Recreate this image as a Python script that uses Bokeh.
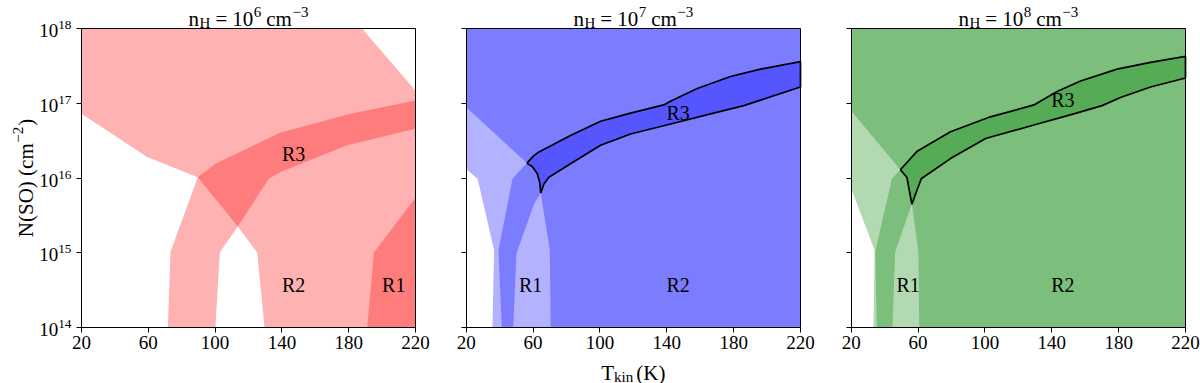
import math
from bokeh.plotting import figure
from bokeh.models import (Range1d, FixedTicker, LogTickFormatter, CustomJSTickFormatter, Label,
                          LinearAxis, LogAxis)
from bokeh.layouts import row
from bokeh.core.properties import value
from bokeh.embed import file_html
from bokeh.resources import INLINE

FONT = "Liberation Serif"

# ---------------- data ----------------
x_ticks = [20, 60, 100, 140, 180, 220]
y_ticks = [1e14, 1e15, 1e16, 1e17, 1e18]
T_min, T_max = 20, 220
logN_min, logN_max = 14, 18
density_exp = ["6", "7", "8"]
panel_colors = ["red", "blue", "green"]

# Panel 1 (nH = 1e6) : region polygons, T (K) and log10 N(SO)
p1_r1_T = [191.1, 195.1, 220.0, 220.0]
p1_r1_logN = [14.0, 15.0, 15.74, 14.0]
p1_r2_T = [20, 188.1, 220, 220, 129.6, 125.2, 113.6, 89.6, 59.3, 20]
p1_r2_logN = [18, 18, 17.17, 14, 14, 15.0, 15.35, 16.01, 16.28, 16.86]
p1_r3_T = [71.7, 73.3, 89.6, 100.2, 139.2, 181.1, 220, 220, 179.1, 139.2, 132.2, 113.6, 102.8, 100.2]
p1_r3_logN = [14.0, 15.01, 16.01, 16.19, 16.61, 16.86, 17.04, 16.66, 16.44, 16.08, 15.99, 15.35, 15.0, 14.0]
p1_lab_T = [147.0, 147.0, 207.0]
p1_lab_logN = [16.32, 14.57, 14.57]
p1_lab_text = ["R3", "R2", "R1"]

# Panel 2 (nH = 1e7)
p2_r1_T = [20, 26.8, 36.7, 35.7, 220, 220, 20]
p2_r1_logN = [16.12, 15.99, 15.03, 14, 14, 18, 18]
p2_r2_T = [20, 56.3, 59.6, 62.5, 64.0, 64.6, 70.0, 70.6, 220, 220, 20]
p2_r2_logN = [16.95, 16.20, 16.15, 16.06, 15.94, 15.80, 15.03, 14, 14, 18, 18]
p2_r3_T = [41.3, 39.3, 47.7, 56.3, 60.5, 63.5, 82.4, 100.4, 118.3, 138.2, 142.2, 158.2, 178.1, 196.1, 220,
           220, 186.1, 166.2, 138.2, 118.3, 100.4, 82.4, 69.5, 66.5, 64.6, 60.6, 50.1, 48.1]
p2_r3_logN = [14, 15.03, 15.99, 16.20, 16.30, 16.35, 16.57, 16.76, 16.87, 16.98, 17.03, 17.20, 17.36, 17.46, 17.56,
              17.22, 16.97, 16.86, 16.70, 16.59, 16.44, 16.19, 16.01, 15.92, 15.80, 15.65, 14.99, 14]
p2_core_T = [56.3, 60.5, 63.5, 82.4, 100.4, 118.3, 138.2, 142.2, 158.2, 178.1, 196.1, 220,
             220, 186.1, 166.2, 138.2, 118.3, 100.4, 82.4, 69.5, 66.5, 64.6, 64.0, 62.5, 59.6, 56.3]
p2_core_logN = [16.20, 16.30, 16.35, 16.57, 16.76, 16.87, 16.98, 17.03, 17.20, 17.36, 17.46, 17.56,
                17.22, 16.97, 16.86, 16.70, 16.59, 16.44, 16.19, 16.01, 15.92, 15.80, 15.94, 16.06, 16.15, 16.20]
p2_lab_T = [146.8, 58.5, 146.8]
p2_lab_logN = [16.87, 14.57, 14.57]
p2_lab_text = ["R3", "R1", "R2"]

# Panel 3 (nH = 1e8)
p3_r1_T = [20, 34.0, 33.3, 220, 220, 20]
p3_r1_logN = [15.86, 15.03, 14, 14, 18, 18]
p3_r2_T = [20, 49.4, 53.3, 56.3, 60.2, 60.7, 220, 220, 20]
p3_r2_logN = [16.90, 16.11, 16.01, 15.65, 15.01, 14, 14, 18, 18]
p3_r3_T = [35.3, 34.4, 44.3, 49.4, 59.5, 79.4, 103.3, 129.3, 143.2, 157.2, 179.1, 199.1, 220,
           220, 199.1, 181.1, 170.1, 153.2, 129.3, 100.4, 79.4, 61.9, 56.3, 46.3, 44.7]
p3_r3_logN = [14, 15.01, 15.99, 16.11, 16.36, 16.62, 16.82, 16.98, 17.16, 17.30, 17.46, 17.55, 17.63,
              17.34, 17.22, 17.08, 16.97, 16.86, 16.71, 16.53, 16.26, 15.99, 15.65, 15.01, 14]
p3_core_T = [49.4, 59.5, 79.4, 103.3, 129.3, 143.2, 157.2, 179.1, 199.1, 220,
             220, 199.1, 181.1, 170.1, 153.2, 129.3, 100.4, 79.4, 61.9, 56.3, 53.3, 49.4]
p3_core_logN = [16.11, 16.36, 16.62, 16.82, 16.98, 17.16, 17.30, 17.46, 17.55, 17.63,
                17.34, 17.22, 17.08, 16.97, 16.86, 16.71, 16.53, 16.26, 15.99, 15.65, 16.01, 16.11]
p3_lab_T = [146.6, 54.1, 146.6]
p3_lab_logN = [17.04, 14.57, 14.57]
p3_lab_text = ["R3", "R1", "R2"]

# ---------------- layout constants (pixels) ----------------
CANVAS_H = 383
BOX_TOP, BOX_BOTTOM = 28.3, 326.7

# ---------------- helpers ----------------
WID = {'n': 0.5, 'H': 0.722, ' ': 0.25, '=': 0.564, '1': 0.5, '0': 0.5, '6': 0.5, '7': 0.5, '8': 0.5,
       'c': 0.444, 'm': 0.778, '\u2212': 0.564, '3': 0.5, '2': 0.5, 'N': 0.722, '(': 0.333, ')': 0.333,
       'S': 0.556, 'O': 0.722, 'T': 0.611, 'k': 0.5, 'i': 0.278, 'K': 0.722}


def text_width(s, size):
    return sum(WID.get(ch, 0.5) for ch in s) * size


def rich_text(p, x, y, pieces, dx=0.0, dy=0.0, vertical=False):
    total = sum(text_width(t, s) + g for t, s, sh, g in pieces)
    pos = -total / 2.0
    for t, s, sh, g in pieces:
        if vertical:
            xo, yo, ang = dx - sh, dy + pos, math.pi / 2
        else:
            xo, yo, ang = dx + pos, dy + sh, 0.0
        p.add_layout(Label(x=x, y=y, x_offset=xo, y_offset=yo, text=t, angle=ang,
                           text_font=FONT, text_font_size=f"{s}px", text_align="left",
                           text_baseline="alphabetic", text_color="black"))
        pos += text_width(t, s) + g


def pw(vals):
    return [10 ** v for v in vals]


def style_axis(ax):
    ax.axis_line_color = "black"
    ax.axis_line_width = 1
    ax.major_tick_line_color = "black"
    ax.major_tick_out = 5
    ax.major_tick_in = 0
    ax.minor_tick_out = 0
    ax.minor_tick_in = 0
    ax.major_label_text_font = FONT
    ax.major_label_text_font_size = "19px"
    ax.major_label_text_color = "black"


def make_panel(idx, regions, core, labels, canvas_w, box_l, box_r):
    ppu = (box_r - box_l) / (T_max - T_min)
    x0 = T_min - box_l / ppu
    x1 = T_min + (canvas_w - box_l) / ppu
    dec = (BOX_BOTTOM - BOX_TOP) / (logN_max - logN_min)
    y1 = logN_max + BOX_TOP / dec
    y0 = logN_min - (CANVAS_H - BOX_BOTTOM) / dec
    p = figure(width=canvas_w, height=CANVAS_H,
               x_range=Range1d(x0, x1), y_range=Range1d(10 ** y0, 10 ** y1),
               y_axis_type="log", output_backend="svg", toolbar_location=None,
               min_border=0, min_border_left=0, min_border_right=0,
               min_border_top=0, min_border_bottom=0)
    p.xgrid.visible = False
    p.ygrid.visible = False
    p.outline_line_color = None
    p.background_fill_color = "white"
    p.border_fill_color = "white"

    col = panel_colors[idx]
    for T, L in regions:
        p.patch(T, pw(L), fill_color=col, fill_alpha=0.3, line_color=None)
    if core is not None:
        T, L = core
        p.line(T, pw(L), line_color="black", line_width=1.7)
    lt, ll, tx = labels
    p.text(x=lt, y=pw(ll), text=tx, text_align="center", text_baseline="middle",
           text_font=value(FONT), text_font_size="20px", text_color="black")

    xa = p.xaxis[0]
    ya = p.yaxis[0]
    style_axis(xa)
    style_axis(ya)
    xa.fixed_location = 10 ** logN_min
    xa.bounds = (T_min, T_max)
    ya.fixed_location = T_min
    ya.bounds = (10 ** logN_min, 10 ** logN_max)
    xa.ticker = FixedTicker(ticks=x_ticks, minor_ticks=[])
    xa.major_label_standoff = 4
    ya.ticker = FixedTicker(ticks=y_ticks, minor_ticks=[])
    ya.major_label_standoff = 5
    if idx == 0:
        ya.formatter = LogTickFormatter()
    else:
        ya.formatter = CustomJSTickFormatter(code="return ''")

    # top and right edges of the box
    top = LinearAxis(fixed_location=10 ** logN_max, bounds=(T_min, T_max),
                     ticker=FixedTicker(ticks=[], minor_ticks=[]))
    right = LogAxis(fixed_location=T_max, bounds=(10 ** logN_min, 10 ** logN_max),
                    ticker=FixedTicker(ticks=[], minor_ticks=[]))
    for ax in (top, right):
        style_axis(ax)
        ax.major_tick_out = 0
        ax.major_label_text_font_size = "0px"
    p.add_layout(top, "above")
    p.add_layout(right, "right")

    # title  n_H = 10^k cm^-3
    rich_text(p, 120, 10 ** logN_max,
              [("n", 21, 0, 0.5), ("H", 15, -4, 5), ("=", 21, 0, 5), ("10", 21, 0, 0.5),
               (density_exp[idx], 15, 7, 5), ("cm", 21, 0, 0.5), ("\u22123", 15, 7, 0)], dy=9.5)
    return p


p1 = make_panel(0, [(p1_r1_T, p1_r1_logN), (p1_r2_T, p1_r2_logN), (p1_r3_T, p1_r3_logN)], None,
                (p1_lab_T, p1_lab_logN, p1_lab_text), 441, 81.0, 415.0)
p2 = make_panel(1, [(p2_r1_T, p2_r1_logN), (p2_r2_T, p2_r2_logN), (p2_r3_T, p2_r3_logN)],
                (p2_core_T, p2_core_logN), (p2_lab_T, p2_lab_logN, p2_lab_text), 384, 24.7, 359.0)
p3 = make_panel(2, [(p3_r1_T, p3_r1_logN), (p3_r2_T, p3_r2_logN), (p3_r3_T, p3_r3_logN)],
                (p3_core_T, p3_core_logN), (p3_lab_T, p3_lab_logN, p3_lab_text), 375, 25.7, 360.0)

# axis titles
rich_text(p1, T_min, 10 ** 16, [("N(SO) (cm", 21, 0, 0.5), ("\u22122", 15, 8, 1), (")", 21, 0, 0)],
          dx=-56, vertical=True)
rich_text(p2, 120, 10 ** logN_min, [("T", 21, 0, 0), ("kin", 15, -4, 3), ("(K)", 21, 0, 0)], dy=-45.3)

layout = row(p1, p2, p3)
open("out.html", "w").write(file_html(layout, INLINE))
